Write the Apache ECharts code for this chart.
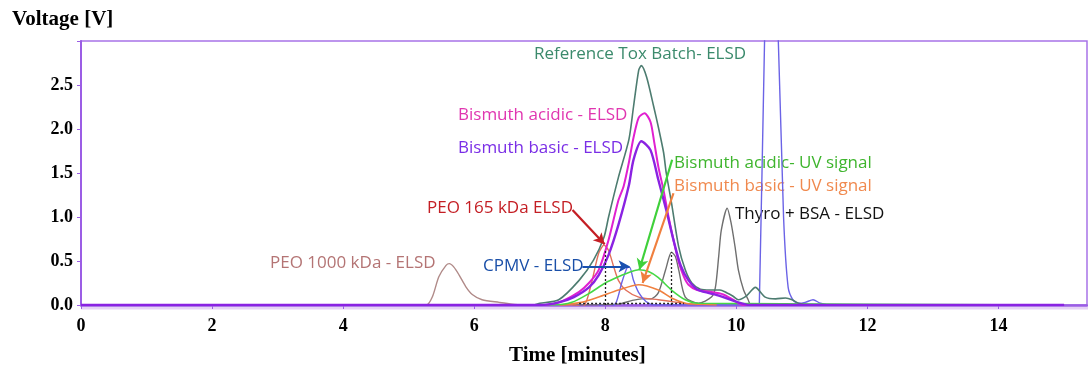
<!DOCTYPE html>
<html><head><meta charset="utf-8">
<script src="https://cdn.jsdelivr.net/npm/echarts@6/dist/echarts.min.js"></script>
<style>html,body{margin:0;padding:0;background:#fff}#c{width:1088px;height:367px}</style>
</head><body><div id="c"></div>
<script>
// ---- data (time in minutes, voltage in V) ----
const xTicks = [0, 2, 4, 6, 8, 10, 12, 14];
const yTicks = [0.0, 0.5, 1.0, 1.5, 2.0, 2.5];

const refToxT = [0, 6.9, 7.0, 7.29, 7.6, 7.82, 7.98, 8.05, 8.2, 8.36, 8.43, 8.51, 8.55, 8.63, 8.74, 8.81, 8.89, 8.93, 9.01, 9.12, 9.22, 9.32, 9.45, 9.6, 9.75, 9.85, 9.95, 10.03, 10.15, 10.29, 10.44, 10.6, 10.75, 10.85, 10.95, 11.1, 15];
const refToxV = [0, 0, 0.02, 0.06, 0.28, 0.51, 0.77, 1.0, 1.45, 1.88, 2.25, 2.67, 2.72, 2.59, 2.25, 2.02, 1.73, 1.5, 1.16, 0.66, 0.40, 0.25, 0.18, 0.17, 0.17, 0.14, 0.10, 0.06, 0.10, 0.20, 0.09, 0.07, 0.08, 0.06, 0.02, 0, 0];

const biAcidT = [0, 7.0, 7.29, 7.6, 7.75, 7.9, 8.05, 8.2, 8.28, 8.36, 8.43, 8.51, 8.6, 8.69, 8.74, 8.81, 8.89, 8.96, 9.04, 9.12, 9.2, 9.27, 9.4, 9.6, 9.8, 9.95, 10.1, 15];
const biAcidV = [0, 0, 0.03, 0.15, 0.25, 0.40, 0.74, 1.19, 1.35, 1.62, 1.90, 2.13, 2.18, 2.08, 1.88, 1.57, 1.30, 1.02, 0.74, 0.49, 0.32, 0.23, 0.17, 0.15, 0.12, 0.06, 0, 0];

const biBasicT = [0, 7.0, 7.29, 7.52, 7.75, 7.9, 8.05, 8.2, 8.36, 8.43, 8.55, 8.69, 8.81, 8.93, 9.04, 9.15, 9.27, 9.42, 9.72, 10.03, 10.2, 15];
const biBasicV = [0, 0, 0.03, 0.09, 0.20, 0.34, 0.57, 0.91, 1.36, 1.65, 1.86, 1.76, 1.42, 1.08, 0.74, 0.45, 0.28, 0.17, 0.11, 0.03, 0, 0];

const acidUvT = [0, 7.2, 7.49, 7.75, 8.0, 8.2, 8.4, 8.51, 8.66, 8.81, 9.01, 9.22, 9.42, 15];
const acidUvV = [0, 0, 0.03, 0.13, 0.25, 0.32, 0.38, 0.40, 0.38, 0.31, 0.17, 0.06, 0.02, 0];

const basicUvT = [7.3, 7.64, 7.9, 8.2, 8.51, 8.81, 9.01, 9.22, 9.4, 9.7];
const basicUvV = [0, 0.03, 0.09, 0.17, 0.23, 0.17, 0.08, 0.02, 0.01, 0];

const peo165T = [7.3, 7.55, 7.65, 7.72, 7.79, 7.9, 7.98, 8.05, 8.13, 8.2, 8.31, 8.51, 8.81, 9.1, 9.4];
const peo165V = [0, 0, -0.03, 0.06, 0.25, 0.59, 0.68, 0.62, 0.43, 0.28, 0.17, 0.09, 0.06, 0.03, 0];

const cpmvT = [7.9, 8.05, 8.16, 8.25, 8.33, 8.37, 8.43, 8.51, 8.62, 8.75, 10.2, 10.3, 10.35, 10.43, 10.53, 10.64, 10.72, 10.79, 10.87, 10.95, 11.05, 11.17, 11.28, 11.4];
const cpmvV = [0, -0.03, 0.02, 0.25, 0.42, 0.43, 0.28, 0.14, 0.04, 0, 0, -0.03, 0, 3.0, 4.6, 3.0, 1.0, 0.2, 0.05, 0.02, 0.03, 0.06, 0.02, 0];

const thyroT = [7.5, 8.2, 8.4, 8.55, 8.7, 8.81, 8.92, 9.01, 9.07, 9.12, 9.22, 9.42, 9.62, 9.68, 9.73, 9.77, 9.86, 9.92, 9.98, 10.03, 10.11, 10.18, 10.23, 10.3];
const thyroV = [0, 0.01, 0.05, 0.07, 0.07, 0.14, 0.40, 0.60, 0.55, 0.40, 0.09, 0.02, 0.09, 0.20, 0.55, 0.85, 1.10, 0.93, 0.66, 0.40, 0.17, 0.06, -0.02, 0];

const peo1000T = [5.08, 5.27, 5.36, 5.46, 5.57, 5.62, 5.69, 5.77, 5.87, 5.97, 6.12, 6.38, 6.58, 6.8];
const peo1000V = [0, 0, 0.09, 0.32, 0.45, 0.47, 0.43, 0.34, 0.21, 0.12, 0.06, 0.03, 0.01, 0];

// ---- chart ----
const zip = (t, v) => t.map((x, i) => [x, v[i]]);
const serif = "'Liberation Serif','Times New Roman',serif";
const sans = "'Open Sans','Noto Sans',sans-serif";
const axisPurple = '#9b5de5';

function lineSeries(name, t, v, color, width, extra) {
  return Object.assign({
    name, type: 'line', data: zip(t, v), showSymbol: false, symbol: 'none',
    smooth: 0.25, clip: true, lineStyle: { color, width }, itemStyle: { color }, z: 3
  }, extra || {});
}

function arrow(color, from, to) {
  return {
    type: 'line', data: [], silent: true,
    markLine: {
      silent: true, symbol: ['none', 'arrow'], symbolSize: [9, 11],
      label: { show: false },
      lineStyle: { color, width: 2.2, type: 'solid' },
      data: [[{ coord: from }, { coord: to }]]
    }, z: 6
  };
}

function txt(text, left, top, color) {
  return { type: 'text', left, top, style: { text, fill: color, font: '17px ' + sans } };
}

const chart = echarts.init(document.getElementById('c'), null, { renderer: 'canvas' });
chart.setOption({
  animation: false,
  grid: { left: 81, right: 1, top: 41, bottom: 62, show: true, borderColor: '#a873e8', borderWidth: 1.5 },
  xAxis: {
    type: 'value', min: 0, max: 15.35, interval: 2,
    splitLine: { show: false },
    axisLine: { lineStyle: { color: axisPurple, width: 2.5 } },
    axisTick: { show: true, length: 4, lineStyle: { color: axisPurple } },
    axisLabel: {
      showMaxLabel: false, margin: 12, color: '#000',
      fontFamily: serif, fontWeight: 'bold', fontSize: 18,
      formatter: v => xTicks.includes(v) ? String(v) : ''
    }
  },
  yAxis: {
    type: 'value', min: 0, max: 3, interval: 0.5,
    splitLine: { show: false },
    axisLine: { show: true, lineStyle: { color: axisPurple, width: 2 } },
    axisTick: { show: true, length: 4, lineStyle: { color: axisPurple } },
    axisLabel: {
      margin: 8, color: '#000', fontFamily: serif, fontWeight: 'bold', fontSize: 18,
      formatter: v => yTicks.some(t => Math.abs(t - v) < 1e-9) ? v.toFixed(1) : ''
    }
  },
  graphic: [
    { type: 'rect', shape: { x: 81, y: 306.5, width: 1007, height: 3 }, style: { fill: '#e6d2f5' }, z: -1 },
    { type: 'text', left: 12, top: 9, style: { text: 'Voltage [V]', fill: '#000', font: 'bold 21px ' + serif } },
    { type: 'text', left: 509, top: 345, style: { text: 'Time [minutes]', fill: '#000', font: 'bold 21px ' + serif } },
    txt('Reference Tox Batch- ELSD', 534, 46, '#3b8a6c'),
    txt('Bismuth acidic - ELSD', 458, 107, '#e035b0'),
    txt('Bismuth basic - ELSD', 458, 140, '#7a2ee6'),
    txt('Bismuth acidic- UV signal', 674, 155, '#3fb52e'),
    txt('Bismuth basic - UV signal', 674, 178, '#f0894e'),
    txt('Thyro + BSA - ELSD', 735, 206, '#111'),
    txt('PEO 165 kDa ELSD', 427, 200, '#c41e24'),
    txt('CPMV - ELSD', 483, 258, '#1a4fa8'),
    txt('PEO 1000 kDa - ELSD', 270, 255, '#b47474')
  ],
  series: [
    lineSeries('PEO 1000 kDa - ELSD', peo1000T, peo1000V, '#b08a88', 1.4),
    lineSeries('Thyro + BSA - ELSD', thyroT, thyroV, '#6f6f6f', 1.4, {
      markLine: {
        silent: true, symbol: 'none', label: { show: false },
        lineStyle: { color: '#222', width: 1.3, type: [2, 2] },
        data: [
          [{ coord: [8, 0] }, { coord: [8, 0.62] }],
          [{ coord: [9, 0] }, { coord: [9, 0.6] }],
          [{ coord: [7.6, 0.015] }, { coord: [9.2, 0.015] }]
        ]
      }
    }),
    lineSeries('PEO 165 kDa ELSD', peo165T, peo165V, '#e2705c', 1.4),
    lineSeries('CPMV - ELSD', cpmvT, cpmvV, '#6b63e6', 1.4),
    lineSeries('Bismuth basic - UV signal', basicUvT, basicUvV, '#f08040', 1.6),
    lineSeries('Bismuth acidic- UV signal', acidUvT, acidUvV, '#45d845', 1.6),
    lineSeries('Reference Tox Batch- ELSD', refToxT, refToxV, '#4d7c70', 1.6),
    lineSeries('Bismuth acidic - ELSD', biAcidT, biAcidV, '#e020d0', 2.0),
    lineSeries('Bismuth basic - ELSD', biBasicT, biBasicV, '#8a22e2', 2.4),
    arrow('#c41e24', [7.5, 1.08], [7.99, 0.69]),
    arrow('#1a50b0', [7.65, 0.44], [8.37, 0.44]),
    arrow('#3fd03a', [9.02, 1.65], [8.52, 0.40]),
    arrow('#f07f3e', [9.04, 1.27], [8.57, 0.25])
  ]
});
</script></body></html>
